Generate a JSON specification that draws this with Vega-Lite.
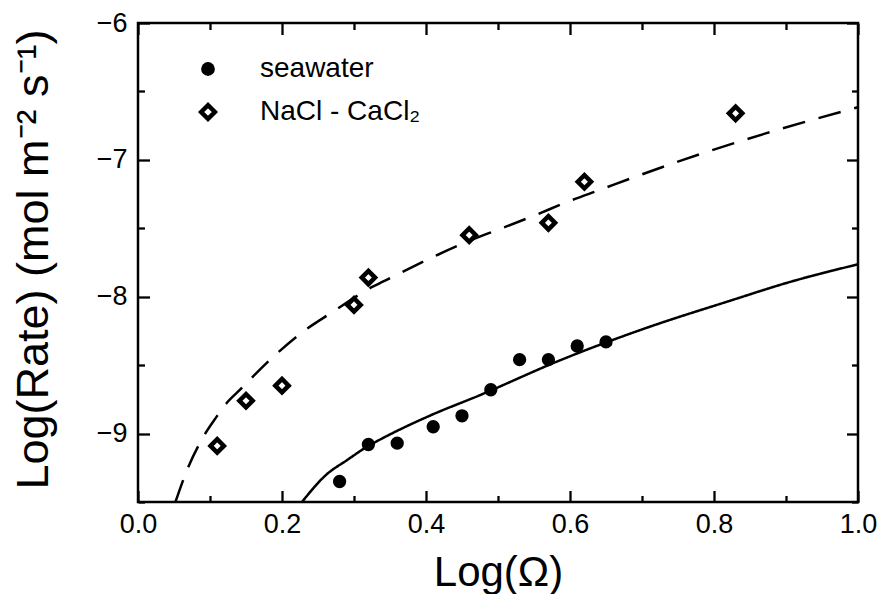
{
  "$schema": "https://vega.github.io/schema/vega-lite/v6.json",
  "width": 720,
  "height": 479,
  "autosize": {"type": "none"},
  "padding": {"left": 138, "top": 23, "right": 21, "bottom": 92},
  "background": "white",
  "config": {
    "view": {"stroke": "black", "strokeWidth": 2.5},
    "axis": {
      "domain": false,
      "grid": false,
      "tickColor": "black",
      "tickWidth": 2.3,
      "labelFont": "Liberation Sans",
      "labelFontSize": 27,
      "labelColor": "black",
      "titleFont": "Liberation Sans",
      "titleColor": "black",
      "titleFontWeight": "normal",
      "labelFlush": false,
      "labelOverlap": false
    }
  },
  "datasets": {
    "pts": [
      {"series": "seawater", "x": 0.28, "y": -9.35},
      {"series": "seawater", "x": 0.32, "y": -9.08},
      {"series": "seawater", "x": 0.36, "y": -9.07},
      {"series": "seawater", "x": 0.41, "y": -8.95},
      {"series": "seawater", "x": 0.45, "y": -8.87},
      {"series": "seawater", "x": 0.49, "y": -8.68},
      {"series": "seawater", "x": 0.53, "y": -8.46},
      {"series": "seawater", "x": 0.57, "y": -8.46},
      {"series": "seawater", "x": 0.61, "y": -8.36},
      {"series": "seawater", "x": 0.65, "y": -8.33},
      {"series": "NaCl - CaCl₂", "x": 0.11, "y": -9.09},
      {"series": "NaCl - CaCl₂", "x": 0.15, "y": -8.76},
      {"series": "NaCl - CaCl₂", "x": 0.20, "y": -8.65},
      {"series": "NaCl - CaCl₂", "x": 0.30, "y": -8.06},
      {"series": "NaCl - CaCl₂", "x": 0.32, "y": -7.86},
      {"series": "NaCl - CaCl₂", "x": 0.46, "y": -7.55},
      {"series": "NaCl - CaCl₂", "x": 0.57, "y": -7.46},
      {"series": "NaCl - CaCl₂", "x": 0.62, "y": -7.16},
      {"series": "NaCl - CaCl₂", "x": 0.83, "y": -6.66}
    ],
    "fit": [
      {"curve": "NaCl - CaCl₂", "x": 0.052, "y": -9.5},
      {"curve": "NaCl - CaCl₂", "x": 0.069, "y": -9.255},
      {"curve": "NaCl - CaCl₂", "x": 0.09, "y": -9.03},
      {"curve": "NaCl - CaCl₂", "x": 0.109, "y": -8.878},
      {"curve": "NaCl - CaCl₂", "x": 0.1226, "y": -8.78},
      {"curve": "NaCl - CaCl₂", "x": 0.141, "y": -8.683},
      {"curve": "NaCl - CaCl₂", "x": 0.183, "y": -8.463},
      {"curve": "NaCl - CaCl₂", "x": 0.229, "y": -8.256},
      {"curve": "NaCl - CaCl₂", "x": 0.2707, "y": -8.11},
      {"curve": "NaCl - CaCl₂", "x": 0.326, "y": -7.927},
      {"curve": "NaCl - CaCl₂", "x": 0.34, "y": -7.89},
      {"curve": "NaCl - CaCl₂", "x": 0.4746, "y": -7.561},
      {"curve": "NaCl - CaCl₂", "x": 0.493, "y": -7.524},
      {"curve": "NaCl - CaCl₂", "x": 0.549, "y": -7.41},
      {"curve": "NaCl - CaCl₂", "x": 0.5997, "y": -7.3},
      {"curve": "NaCl - CaCl₂", "x": 0.641, "y": -7.22},
      {"curve": "NaCl - CaCl₂", "x": 0.66, "y": -7.183},
      {"curve": "NaCl - CaCl₂", "x": 0.757, "y": -7.0},
      {"curve": "NaCl - CaCl₂", "x": 0.873, "y": -6.805},
      {"curve": "NaCl - CaCl₂", "x": 1.0, "y": -6.615},
      {"curve": "seawater", "x": 0.2277, "y": -9.5},
      {"curve": "seawater", "x": 0.2616, "y": -9.3},
      {"curve": "seawater", "x": 0.29, "y": -9.195},
      {"curve": "seawater", "x": 0.32, "y": -9.09},
      {"curve": "seawater", "x": 0.3357, "y": -9.045},
      {"curve": "seawater", "x": 0.405, "y": -8.87},
      {"curve": "seawater", "x": 0.4746, "y": -8.72},
      {"curve": "seawater", "x": 0.586, "y": -8.465},
      {"curve": "seawater", "x": 0.706, "y": -8.228},
      {"curve": "seawater", "x": 0.822, "y": -8.03},
      {"curve": "seawater", "x": 0.905, "y": -7.893},
      {"curve": "seawater", "x": 1.0, "y": -7.763}
    ]
  },
  "layer": [
    {
      "data": {"name": "fit"},
      "mark": {"type": "line", "color": "black", "strokeWidth": 2.5, "interpolate": "monotone", "clip": true},
      "encoding": {
        "x": {
          "field": "x", "type": "quantitative",
          "scale": {"domain": [0, 1], "nice": false, "zero": false},
          "axis": {
            "orient": "bottom",
            "values": [0, 0.1, 0.2, 0.3, 0.4, 0.5, 0.6, 0.7, 0.8, 0.9, 1.0],
            "tickSize": {"condition": {"test": "round(datum.value*10) % 2 === 0", "value": -11.5}, "value": -6.5},
            "labelExpr": "round(datum.value*10) % 2 === 0 ? format(datum.value, '.1f') : ''",
            "labelPadding": 20.5,
            "title": "Log(Ω)",
            "titleFontSize": 42,
            "titleBaseline": "alphabetic",
            "titleY": 83
          }
        },
        "y": {
          "field": "y", "type": "quantitative",
          "scale": {"domain": [-9.5, -6], "nice": false, "zero": false},
          "axis": {
            "orient": "left",
            "values": [-9.5, -9, -8.5, -8, -7.5, -7, -6.5, -6],
            "tickSize": {"condition": {"test": "datum.value % 1 === 0", "value": -11.5}, "value": -6.5},
            "labelExpr": "datum.value % 1 === 0 ? format(datum.value, 'd') : ''",
            "labelPadding": 22.5,
            "title": "Log(Rate) (mol m⁻² s⁻¹)",
            "titleFontSize": 45,
            "titleBaseline": "alphabetic",
            "titleX": -91,
            "titleY": 236
          }
        },
        "strokeDash": {
          "field": "curve", "type": "nominal",
          "scale": {"domain": ["NaCl - CaCl₂", "seawater"], "range": [[23, 14], [1, 0]]},
          "legend": null
        }
      }
    },
    {
      "data": {"name": "pts"},
      "mark": {"type": "point", "size": 177, "strokeWidth": 4.5, "opacity": 1},
      "encoding": {
        "x": {
          "field": "x", "type": "quantitative",
          "axis": {
            "orient": "top",
            "values": [0, 0.1, 0.2, 0.3, 0.4, 0.5, 0.6, 0.7, 0.8, 0.9, 1.0],
            "tickSize": {"condition": {"test": "round(datum.value*10) % 2 === 0", "value": -11.5}, "value": -6.5},
            "labels": false,
            "title": null
          }
        },
        "y": {
          "field": "y", "type": "quantitative",
          "axis": {
            "orient": "right",
            "values": [-9.5, -9, -8.5, -8, -7.5, -7, -6.5, -6],
            "tickSize": {"condition": {"test": "datum.value % 1 === 0", "value": -11.5}, "value": -6.5},
            "labels": false,
            "title": null
          }
        },
        "shape": {
          "field": "series", "type": "nominal",
          "scale": {"domain": ["seawater", "NaCl - CaCl₂"], "range": ["circle", "diamond"]},
          "legend": {"title": null, "orient": "none", "legendX": 56, "legendY": 32, "padding": 0, "labelFont": "Liberation Sans", "labelFontSize": 28, "labelColor": "black", "labelLimit": 400, "symbolSize": 190, "symbolStrokeWidth": 4.5, "rowPadding": 11, "labelOffset": 38}
        },
        "fill": {
          "field": "series", "type": "nominal",
          "scale": {"domain": ["seawater", "NaCl - CaCl₂"], "range": ["black", "white"]},
          "legend": {"title": null, "orient": "none", "legendX": 56, "legendY": 32, "padding": 0, "labelFont": "Liberation Sans", "labelFontSize": 28, "labelColor": "black", "labelLimit": 400, "symbolSize": 190, "symbolStrokeWidth": 4.5, "rowPadding": 11, "labelOffset": 38}
        },
        "stroke": {
          "field": "series", "type": "nominal",
          "scale": {"domain": ["seawater", "NaCl - CaCl₂"], "range": ["transparent", "black"]},
          "legend": {"title": null, "orient": "none", "legendX": 56, "legendY": 32, "padding": 0, "labelFont": "Liberation Sans", "labelFontSize": 28, "labelColor": "black", "labelLimit": 400, "symbolSize": 190, "symbolStrokeWidth": 4.5, "rowPadding": 11, "labelOffset": 38}
        }
      }
    }
  ],
  "resolve": {"axis": {"x": "independent", "y": "independent"}}
}
